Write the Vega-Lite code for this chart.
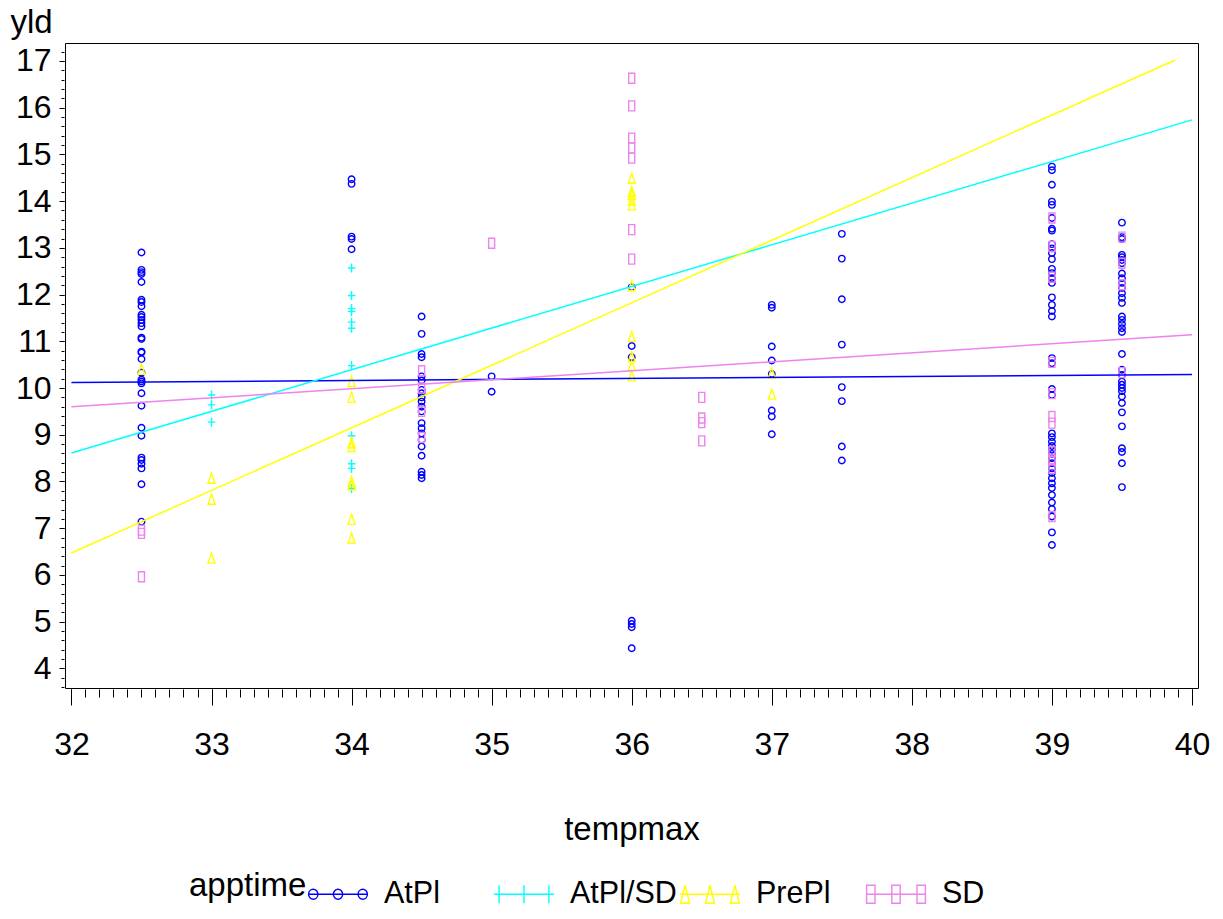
{
  "$schema": "https://vega.github.io/schema/vega-lite/v6.json",
  "autosize": {"type": "none"},
  "width": 1133,
  "height": 645,
  "padding": {"left": 65, "top": 43, "right": 25, "bottom": 231},
  "background": "white",
  "config": {
    "font": "Liberation Sans",
    "view": {"stroke": "black", "strokeWidth": 1},
    "axis": {"labelFont": "Liberation Sans", "titleFont": "Liberation Sans", "labelColor": "black", "titleColor": "black", "tickColor": "black", "grid": false, "domain": false, "titleFontWeight": "normal", "labelFontSize": 32, "titleFontSize": 33},
    "legend": {"labelFont": "Liberation Sans", "titleFont": "Liberation Sans"}
  },
  "datasets": {
    "pts": [
      {"apptime": "AtPl", "tempmax": 32.5, "yld": 12.90}, {"apptime": "AtPl", "tempmax": 32.5, "yld": 12.53}, {"apptime": "AtPl", "tempmax": 32.5, "yld": 12.48}, {"apptime": "AtPl", "tempmax": 32.5, "yld": 12.44}, {"apptime": "AtPl", "tempmax": 32.5, "yld": 12.27}, {"apptime": "AtPl", "tempmax": 32.5, "yld": 11.89}, {"apptime": "AtPl", "tempmax": 32.5, "yld": 11.84}, {"apptime": "AtPl", "tempmax": 32.5, "yld": 11.75}, {"apptime": "AtPl", "tempmax": 32.5, "yld": 11.57}, {"apptime": "AtPl", "tempmax": 32.5, "yld": 11.52}, {"apptime": "AtPl", "tempmax": 32.5, "yld": 11.46}, {"apptime": "AtPl", "tempmax": 32.5, "yld": 11.39}, {"apptime": "AtPl", "tempmax": 32.5, "yld": 11.32}, {"apptime": "AtPl", "tempmax": 32.5, "yld": 11.08}, {"apptime": "AtPl", "tempmax": 32.5, "yld": 11.05}, {"apptime": "AtPl", "tempmax": 32.5, "yld": 10.78}, {"apptime": "AtPl", "tempmax": 32.5, "yld": 10.76}, {"apptime": "AtPl", "tempmax": 32.5, "yld": 10.62}, {"apptime": "AtPl", "tempmax": 32.5, "yld": 10.33}, {"apptime": "AtPl", "tempmax": 32.5, "yld": 10.18}, {"apptime": "AtPl", "tempmax": 32.5, "yld": 10.14}, {"apptime": "AtPl", "tempmax": 32.5, "yld": 10.10}, {"apptime": "AtPl", "tempmax": 32.5, "yld": 9.89}, {"apptime": "AtPl", "tempmax": 32.5, "yld": 9.62}, {"apptime": "AtPl", "tempmax": 32.5, "yld": 9.15}, {"apptime": "AtPl", "tempmax": 32.5, "yld": 8.98}, {"apptime": "AtPl", "tempmax": 32.5, "yld": 8.51}, {"apptime": "AtPl", "tempmax": 32.5, "yld": 8.46}, {"apptime": "AtPl", "tempmax": 32.5, "yld": 8.38}, {"apptime": "AtPl", "tempmax": 32.5, "yld": 8.28}, {"apptime": "AtPl", "tempmax": 32.5, "yld": 7.94}, {"apptime": "AtPl", "tempmax": 32.5, "yld": 7.14},
      {"apptime": "AtPl", "tempmax": 34, "yld": 14.47}, {"apptime": "AtPl", "tempmax": 34, "yld": 14.37}, {"apptime": "AtPl", "tempmax": 34, "yld": 13.24}, {"apptime": "AtPl", "tempmax": 34, "yld": 13.19}, {"apptime": "AtPl", "tempmax": 34, "yld": 12.97},
      {"apptime": "AtPl", "tempmax": 34.5, "yld": 11.53}, {"apptime": "AtPl", "tempmax": 34.5, "yld": 11.16}, {"apptime": "AtPl", "tempmax": 34.5, "yld": 10.73}, {"apptime": "AtPl", "tempmax": 34.5, "yld": 10.66}, {"apptime": "AtPl", "tempmax": 34.5, "yld": 10.25}, {"apptime": "AtPl", "tempmax": 34.5, "yld": 10.16}, {"apptime": "AtPl", "tempmax": 34.5, "yld": 9.96}, {"apptime": "AtPl", "tempmax": 34.5, "yld": 9.89}, {"apptime": "AtPl", "tempmax": 34.5, "yld": 9.80}, {"apptime": "AtPl", "tempmax": 34.5, "yld": 9.71}, {"apptime": "AtPl", "tempmax": 34.5, "yld": 9.60}, {"apptime": "AtPl", "tempmax": 34.5, "yld": 9.50}, {"apptime": "AtPl", "tempmax": 34.5, "yld": 9.25}, {"apptime": "AtPl", "tempmax": 34.5, "yld": 9.14}, {"apptime": "AtPl", "tempmax": 34.5, "yld": 9.03}, {"apptime": "AtPl", "tempmax": 34.5, "yld": 8.89}, {"apptime": "AtPl", "tempmax": 34.5, "yld": 8.75}, {"apptime": "AtPl", "tempmax": 34.5, "yld": 8.55}, {"apptime": "AtPl", "tempmax": 34.5, "yld": 8.21}, {"apptime": "AtPl", "tempmax": 34.5, "yld": 8.14}, {"apptime": "AtPl", "tempmax": 34.5, "yld": 8.07},
      {"apptime": "AtPl", "tempmax": 35, "yld": 10.25}, {"apptime": "AtPl", "tempmax": 35, "yld": 9.92},
      {"apptime": "AtPl", "tempmax": 36, "yld": 12.16}, {"apptime": "AtPl", "tempmax": 36, "yld": 10.90}, {"apptime": "AtPl", "tempmax": 36, "yld": 10.66}, {"apptime": "AtPl", "tempmax": 36, "yld": 5.02}, {"apptime": "AtPl", "tempmax": 36, "yld": 4.95}, {"apptime": "AtPl", "tempmax": 36, "yld": 4.88}, {"apptime": "AtPl", "tempmax": 36, "yld": 4.43},
      {"apptime": "AtPl", "tempmax": 37, "yld": 11.78}, {"apptime": "AtPl", "tempmax": 37, "yld": 11.72}, {"apptime": "AtPl", "tempmax": 37, "yld": 10.89}, {"apptime": "AtPl", "tempmax": 37, "yld": 10.59}, {"apptime": "AtPl", "tempmax": 37, "yld": 10.30}, {"apptime": "AtPl", "tempmax": 37, "yld": 9.52}, {"apptime": "AtPl", "tempmax": 37, "yld": 9.39}, {"apptime": "AtPl", "tempmax": 37, "yld": 9.01},
      {"apptime": "AtPl", "tempmax": 37.5, "yld": 13.30}, {"apptime": "AtPl", "tempmax": 37.5, "yld": 12.77}, {"apptime": "AtPl", "tempmax": 37.5, "yld": 11.90}, {"apptime": "AtPl", "tempmax": 37.5, "yld": 10.93}, {"apptime": "AtPl", "tempmax": 37.5, "yld": 10.02}, {"apptime": "AtPl", "tempmax": 37.5, "yld": 9.72}, {"apptime": "AtPl", "tempmax": 37.5, "yld": 8.75}, {"apptime": "AtPl", "tempmax": 37.5, "yld": 8.45},
      {"apptime": "AtPl", "tempmax": 39, "yld": 14.74}, {"apptime": "AtPl", "tempmax": 39, "yld": 14.66}, {"apptime": "AtPl", "tempmax": 39, "yld": 14.35}, {"apptime": "AtPl", "tempmax": 39, "yld": 13.99}, {"apptime": "AtPl", "tempmax": 39, "yld": 13.92}, {"apptime": "AtPl", "tempmax": 39, "yld": 13.64}, {"apptime": "AtPl", "tempmax": 39, "yld": 13.41}, {"apptime": "AtPl", "tempmax": 39, "yld": 13.37}, {"apptime": "AtPl", "tempmax": 39, "yld": 13.08}, {"apptime": "AtPl", "tempmax": 39, "yld": 12.99}, {"apptime": "AtPl", "tempmax": 39, "yld": 12.89}, {"apptime": "AtPl", "tempmax": 39, "yld": 12.76}, {"apptime": "AtPl", "tempmax": 39, "yld": 12.55}, {"apptime": "AtPl", "tempmax": 39, "yld": 12.46}, {"apptime": "AtPl", "tempmax": 39, "yld": 12.35}, {"apptime": "AtPl", "tempmax": 39, "yld": 12.25}, {"apptime": "AtPl", "tempmax": 39, "yld": 11.94}, {"apptime": "AtPl", "tempmax": 39, "yld": 11.78}, {"apptime": "AtPl", "tempmax": 39, "yld": 11.65}, {"apptime": "AtPl", "tempmax": 39, "yld": 11.53}, {"apptime": "AtPl", "tempmax": 39, "yld": 10.64}, {"apptime": "AtPl", "tempmax": 39, "yld": 10.53}, {"apptime": "AtPl", "tempmax": 39, "yld": 9.98}, {"apptime": "AtPl", "tempmax": 39, "yld": 9.85}, {"apptime": "AtPl", "tempmax": 39, "yld": 9.03}, {"apptime": "AtPl", "tempmax": 39, "yld": 8.95}, {"apptime": "AtPl", "tempmax": 39, "yld": 8.85}, {"apptime": "AtPl", "tempmax": 39, "yld": 8.76}, {"apptime": "AtPl", "tempmax": 39, "yld": 8.68}, {"apptime": "AtPl", "tempmax": 39, "yld": 8.59}, {"apptime": "AtPl", "tempmax": 39, "yld": 8.50}, {"apptime": "AtPl", "tempmax": 39, "yld": 8.39}, {"apptime": "AtPl", "tempmax": 39, "yld": 8.28}, {"apptime": "AtPl", "tempmax": 39, "yld": 8.18}, {"apptime": "AtPl", "tempmax": 39, "yld": 8.07}, {"apptime": "AtPl", "tempmax": 39, "yld": 7.96}, {"apptime": "AtPl", "tempmax": 39, "yld": 7.86}, {"apptime": "AtPl", "tempmax": 39, "yld": 7.71}, {"apptime": "AtPl", "tempmax": 39, "yld": 7.55}, {"apptime": "AtPl", "tempmax": 39, "yld": 7.41}, {"apptime": "AtPl", "tempmax": 39, "yld": 7.25}, {"apptime": "AtPl", "tempmax": 39, "yld": 6.91}, {"apptime": "AtPl", "tempmax": 39, "yld": 6.64},
      {"apptime": "AtPl", "tempmax": 39.5, "yld": 13.54}, {"apptime": "AtPl", "tempmax": 39.5, "yld": 13.23}, {"apptime": "AtPl", "tempmax": 39.5, "yld": 13.19}, {"apptime": "AtPl", "tempmax": 39.5, "yld": 12.85}, {"apptime": "AtPl", "tempmax": 39.5, "yld": 12.80}, {"apptime": "AtPl", "tempmax": 39.5, "yld": 12.74}, {"apptime": "AtPl", "tempmax": 39.5, "yld": 12.67}, {"apptime": "AtPl", "tempmax": 39.5, "yld": 12.45}, {"apptime": "AtPl", "tempmax": 39.5, "yld": 12.35}, {"apptime": "AtPl", "tempmax": 39.5, "yld": 12.25}, {"apptime": "AtPl", "tempmax": 39.5, "yld": 12.14}, {"apptime": "AtPl", "tempmax": 39.5, "yld": 12.03}, {"apptime": "AtPl", "tempmax": 39.5, "yld": 11.93}, {"apptime": "AtPl", "tempmax": 39.5, "yld": 11.82}, {"apptime": "AtPl", "tempmax": 39.5, "yld": 11.53}, {"apptime": "AtPl", "tempmax": 39.5, "yld": 11.46}, {"apptime": "AtPl", "tempmax": 39.5, "yld": 11.37}, {"apptime": "AtPl", "tempmax": 39.5, "yld": 11.28}, {"apptime": "AtPl", "tempmax": 39.5, "yld": 11.20}, {"apptime": "AtPl", "tempmax": 39.5, "yld": 10.73}, {"apptime": "AtPl", "tempmax": 39.5, "yld": 10.39}, {"apptime": "AtPl", "tempmax": 39.5, "yld": 10.28}, {"apptime": "AtPl", "tempmax": 39.5, "yld": 10.14}, {"apptime": "AtPl", "tempmax": 39.5, "yld": 10.07}, {"apptime": "AtPl", "tempmax": 39.5, "yld": 10.00}, {"apptime": "AtPl", "tempmax": 39.5, "yld": 9.93}, {"apptime": "AtPl", "tempmax": 39.5, "yld": 9.82}, {"apptime": "AtPl", "tempmax": 39.5, "yld": 9.68}, {"apptime": "AtPl", "tempmax": 39.5, "yld": 9.48}, {"apptime": "AtPl", "tempmax": 39.5, "yld": 9.18}, {"apptime": "AtPl", "tempmax": 39.5, "yld": 8.71}, {"apptime": "AtPl", "tempmax": 39.5, "yld": 8.63}, {"apptime": "AtPl", "tempmax": 39.5, "yld": 8.39}, {"apptime": "AtPl", "tempmax": 39.5, "yld": 7.88},
      {"apptime": "AtPl/SD", "tempmax": 33, "yld": 9.85}, {"apptime": "AtPl/SD", "tempmax": 33, "yld": 9.64}, {"apptime": "AtPl/SD", "tempmax": 33, "yld": 9.27},
      {"apptime": "AtPl/SD", "tempmax": 34, "yld": 12.57}, {"apptime": "AtPl/SD", "tempmax": 34, "yld": 11.98}, {"apptime": "AtPl/SD", "tempmax": 34, "yld": 11.70}, {"apptime": "AtPl/SD", "tempmax": 34, "yld": 11.64}, {"apptime": "AtPl/SD", "tempmax": 34, "yld": 11.41}, {"apptime": "AtPl/SD", "tempmax": 34, "yld": 11.28}, {"apptime": "AtPl/SD", "tempmax": 34, "yld": 10.48}, {"apptime": "AtPl/SD", "tempmax": 34, "yld": 8.98}, {"apptime": "AtPl/SD", "tempmax": 34, "yld": 8.38}, {"apptime": "AtPl/SD", "tempmax": 34, "yld": 8.28}, {"apptime": "AtPl/SD", "tempmax": 34, "yld": 7.85},
      {"apptime": "PrePl", "tempmax": 32.5, "yld": 10.40},
      {"apptime": "PrePl", "tempmax": 33, "yld": 8.07}, {"apptime": "PrePl", "tempmax": 33, "yld": 7.62}, {"apptime": "PrePl", "tempmax": 33, "yld": 6.36},
      {"apptime": "PrePl", "tempmax": 34, "yld": 10.14}, {"apptime": "PrePl", "tempmax": 34, "yld": 9.80}, {"apptime": "PrePl", "tempmax": 34, "yld": 8.83}, {"apptime": "PrePl", "tempmax": 34, "yld": 8.75}, {"apptime": "PrePl", "tempmax": 34, "yld": 8.00}, {"apptime": "PrePl", "tempmax": 34, "yld": 7.93}, {"apptime": "PrePl", "tempmax": 34, "yld": 7.19}, {"apptime": "PrePl", "tempmax": 34, "yld": 6.79},
      {"apptime": "PrePl", "tempmax": 36, "yld": 14.49}, {"apptime": "PrePl", "tempmax": 36, "yld": 14.21}, {"apptime": "PrePl", "tempmax": 36, "yld": 14.14}, {"apptime": "PrePl", "tempmax": 36, "yld": 14.03}, {"apptime": "PrePl", "tempmax": 36, "yld": 13.92}, {"apptime": "PrePl", "tempmax": 36, "yld": 12.19}, {"apptime": "PrePl", "tempmax": 36, "yld": 11.10}, {"apptime": "PrePl", "tempmax": 36, "yld": 10.67}, {"apptime": "PrePl", "tempmax": 36, "yld": 10.48}, {"apptime": "PrePl", "tempmax": 36, "yld": 10.26},
      {"apptime": "PrePl", "tempmax": 37, "yld": 10.32}, {"apptime": "PrePl", "tempmax": 37, "yld": 9.87},
      {"apptime": "SD", "tempmax": 32.5, "yld": 6.96}, {"apptime": "SD", "tempmax": 32.5, "yld": 6.89}, {"apptime": "SD", "tempmax": 32.5, "yld": 5.96},
      {"apptime": "SD", "tempmax": 34.5, "yld": 10.37}, {"apptime": "SD", "tempmax": 34.5, "yld": 10.00}, {"apptime": "SD", "tempmax": 34.5, "yld": 9.50}, {"apptime": "SD", "tempmax": 34.5, "yld": 8.94},
      {"apptime": "SD", "tempmax": 35, "yld": 13.10},
      {"apptime": "SD", "tempmax": 36, "yld": 16.63}, {"apptime": "SD", "tempmax": 36, "yld": 16.04}, {"apptime": "SD", "tempmax": 36, "yld": 15.35}, {"apptime": "SD", "tempmax": 36, "yld": 15.14}, {"apptime": "SD", "tempmax": 36, "yld": 14.92}, {"apptime": "SD", "tempmax": 36, "yld": 13.39}, {"apptime": "SD", "tempmax": 36, "yld": 12.76},
      {"apptime": "SD", "tempmax": 36.5, "yld": 9.80}, {"apptime": "SD", "tempmax": 36.5, "yld": 9.36}, {"apptime": "SD", "tempmax": 36.5, "yld": 9.26}, {"apptime": "SD", "tempmax": 36.5, "yld": 8.87},
      {"apptime": "SD", "tempmax": 39, "yld": 13.64}, {"apptime": "SD", "tempmax": 39, "yld": 13.03}, {"apptime": "SD", "tempmax": 39, "yld": 12.37}, {"apptime": "SD", "tempmax": 39, "yld": 10.55}, {"apptime": "SD", "tempmax": 39, "yld": 9.88}, {"apptime": "SD", "tempmax": 39, "yld": 9.39}, {"apptime": "SD", "tempmax": 39, "yld": 9.25}, {"apptime": "SD", "tempmax": 39, "yld": 8.64}, {"apptime": "SD", "tempmax": 39, "yld": 8.46}, {"apptime": "SD", "tempmax": 39, "yld": 8.28}, {"apptime": "SD", "tempmax": 39, "yld": 7.25},
      {"apptime": "SD", "tempmax": 39.5, "yld": 13.23}, {"apptime": "SD", "tempmax": 39.5, "yld": 12.67}, {"apptime": "SD", "tempmax": 39.5, "yld": 12.21}, {"apptime": "SD", "tempmax": 39.5, "yld": 10.33}
    ],
    "fits": [
      {"apptime": "AtPl", "tempmax": 32, "fit": 10.12}, {"apptime": "AtPl", "tempmax": 40, "fit": 10.29},
      {"apptime": "AtPl/SD", "tempmax": 32, "fit": 8.61}, {"apptime": "AtPl/SD", "tempmax": 40, "fit": 15.74},
      {"apptime": "PrePl", "tempmax": 32, "fit": 6.47}, {"apptime": "PrePl", "tempmax": 39.88, "fit": 17.02},
      {"apptime": "SD", "tempmax": 32, "fit": 9.60}, {"apptime": "SD", "tempmax": 40, "fit": 11.14}
    ]
  },
  "layer": [
    {
      "data": {"name": "fits"},
      "mark": {"type": "rule", "opacity": 0},
      "encoding": {
        "x": {"field": "tempmax", "type": "quantitative", "scale": {"domain": [31.954, 40.043], "nice": false, "zero": false},
          "axis": {"orient": "bottom", "tickCount": 80, "labels": false, "title": null, "tickSize": 8, "offset": 1}},
        "y": {"field": "fit", "type": "quantitative", "scale": {"domain": [3.58, 17.385], "nice": false, "zero": false},
          "axis": {"orient": "left", "tickCount": 69, "labels": false, "title": null, "tickSize": 3, "offset": 1}}
      }
    },
    {
      "layer": [
        {
          "data": {"name": "fits"},
          "mark": {"type": "point", "filled": false, "size": 0, "strokeWidth": 1.4, "opacity": 1},
          "encoding": {
            "x": {"field": "tempmax", "type": "quantitative",
              "axis": {"orient": "bottom", "values": [32, 33, 34, 35, 36, 37, 38, 39, 40], "format": "d", "title": "tempmax", "tickSize": 16, "offset": 1, "labelPadding": 24, "titleBaseline": "alphabetic", "titleY": 150}},
            "y": {"field": "fit", "type": "quantitative",
              "axis": {"orient": "left", "values": [4, 5, 6, 7, 8, 9, 10, 11, 12, 13, 14, 15, 16, 17], "format": "d", "title": "yld", "titleAngle": 0, "titleAlign": "left", "titleBaseline": "alphabetic", "titleX": -54, "titleY": -11, "tickSize": 5, "offset": 1, "labelPadding": 8}},
            "color": {"field": "apptime", "type": "nominal",
              "scale": {"domain": ["AtPl", "AtPl/SD", "PrePl", "SD"], "range": ["#0000FF", "#00FFFF", "#FFFF00", "#EE82EE"]},
              "legend": {"orient": "none", "legendX": 124, "legendY": 820, "direction": "horizontal", "columns": 4, "gridAlign": "all", "columnPadding": 0,
                "title": "apptime", "titleOrient": "left", "titleAnchor": "middle", "titleBaseline": "middle", "titleFontSize": 33, "titleFontWeight": "normal", "titleColor": "black", "titlePadding": 0,
                "labelFontSize": 30.5, "labelColor": "black", "labelOffset": 15, "symbolSize": 3600, "symbolStrokeWidth": 1.4, "symbolFillColor": "transparent", "symbolOpacity": 1}},
            "shape": {"field": "apptime", "type": "nominal",
              "scale": {"domain": ["AtPl", "AtPl/SD", "PrePl", "SD"], "range": [
                "M-1,0L1,0M-0.98,0a0.155,0.165 0 1,0 0.31,0a0.155,0.165 0 1,0 -0.31,0M-0.155,0a0.155,0.165 0 1,0 0.31,0a0.155,0.165 0 1,0 -0.31,0M0.67,0a0.155,0.165 0 1,0 0.31,0a0.155,0.165 0 1,0 -0.31,0",
                "M-1,0L1,0M-0.83,-0.3L-0.83,0.3M0,-0.3L0,0.3M0.83,-0.3L0.83,0.3",
                "M-1,0L1,0M-0.83,-0.3L-0.68,0.3L-0.98,0.3ZM0,-0.3L0.15,0.3L-0.15,0.3ZM0.83,-0.3L0.98,0.3L0.68,0.3Z",
                "M-1,0L1,0M-0.98,-0.3L-0.7,-0.3L-0.7,0.3L-0.98,0.3ZM-0.14,-0.3L0.14,-0.3L0.14,0.3L-0.14,0.3ZM0.7,-0.3L0.98,-0.3L0.98,0.3L0.7,0.3Z"]},
              "legend": {"orient": "none", "legendX": 124, "legendY": 820, "direction": "horizontal", "columns": 4, "gridAlign": "all", "columnPadding": 0,
                "title": "apptime", "titleOrient": "left", "titleAnchor": "middle", "titleBaseline": "middle", "titleFontSize": 33, "titleFontWeight": "normal", "titleColor": "black", "titlePadding": 0,
                "labelFontSize": 30.5, "labelColor": "black", "labelOffset": 15, "symbolSize": 3600, "symbolStrokeWidth": 1.4, "symbolFillColor": "transparent", "symbolOpacity": 1}}
          }
        },
        {
          "data": {"name": "pts"},
          "transform": [{"filter": "datum.apptime === 'AtPl'"}],
          "mark": {"type": "point", "filled": false, "size": 100, "strokeWidth": 1.4, "opacity": 1, "shape": "M-0.65,0a0.65,0.65 0 1,0 1.3,0a0.65,0.65 0 1,0 -1.3,0"},
          "encoding": {
            "x": {"field": "tempmax", "type": "quantitative"},
            "y": {"field": "yld", "type": "quantitative"},
            "color": {"field": "apptime", "type": "nominal", "legend": null}
          }
        },
        {
          "data": {"name": "pts"},
          "transform": [{"filter": "datum.apptime === 'AtPl/SD'"}],
          "mark": {"type": "point", "filled": false, "size": 100, "strokeWidth": 1.4, "opacity": 1, "shape": "M-0.75,0L0.75,0M0,-0.9L0,0.9"},
          "encoding": {
            "x": {"field": "tempmax", "type": "quantitative"},
            "y": {"field": "yld", "type": "quantitative"},
            "color": {"field": "apptime", "type": "nominal", "legend": null}
          }
        },
        {
          "data": {"name": "pts"},
          "transform": [{"filter": "datum.apptime === 'PrePl'"}],
          "mark": {"type": "point", "filled": false, "size": 100, "strokeWidth": 1.4, "opacity": 1, "shape": "M0,-1L0.7,1L-0.7,1Z"},
          "encoding": {
            "x": {"field": "tempmax", "type": "quantitative"},
            "y": {"field": "yld", "type": "quantitative"},
            "color": {"field": "apptime", "type": "nominal", "legend": null}
          }
        },
        {
          "data": {"name": "pts"},
          "transform": [{"filter": "datum.apptime === 'SD'"}],
          "mark": {"type": "point", "filled": false, "size": 100, "strokeWidth": 1.4, "opacity": 1, "shape": "M-0.6,-1L0.6,-1L0.6,1L-0.6,1Z"},
          "encoding": {
            "x": {"field": "tempmax", "type": "quantitative"},
            "y": {"field": "yld", "type": "quantitative"},
            "color": {"field": "apptime", "type": "nominal", "legend": null}
          }
        },
        {
          "data": {"name": "fits"},
          "mark": {"type": "line", "strokeWidth": 1.5},
          "encoding": {
            "x": {"field": "tempmax", "type": "quantitative"},
            "y": {"field": "fit", "type": "quantitative"},
            "color": {"field": "apptime", "type": "nominal", "legend": null},
            "detail": {"field": "apptime"}
          }
        }
      ]
    }
  ],
  "resolve": {"axis": {"x": "independent", "y": "independent"}}
}
